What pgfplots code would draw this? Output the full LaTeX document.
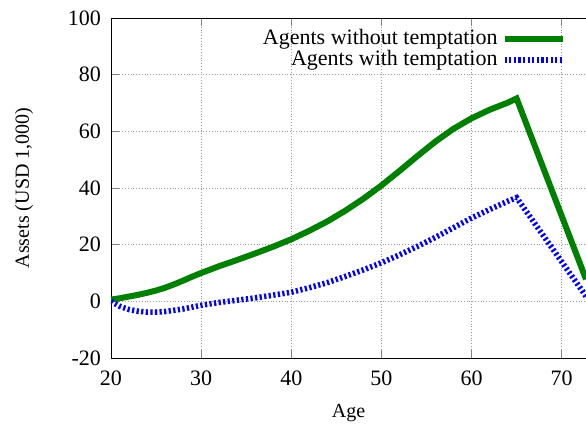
\documentclass[border=0pt]{standalone}
\usepackage{pgfplots}
\pgfplotsset{compat=1.18}
\usepackage{fontspec}
\setmainfont{Liberation Serif}
\definecolor{gpgreen}{RGB}{0,128,0}
\definecolor{gpblue}{RGB}{0,0,255}
\begin{document}
\begin{tikzpicture}
\begin{axis}[
  scale only axis,
  width=237.5pt, height=170pt,
  xmin=20, xmax=72.7, ymin=-20, ymax=100,
  xtick={20,30,40,50,60,70},
  ytick={-20,0,20,40,60,80,100},
  axis x line*=box, axis y line*=left,
  y axis line style={-},
  x axis line style={-},
  tick align=inside,
  major tick length=4pt,
  grid=major,
  major grid style={densely dotted, gray!80, line width=0.4pt},
  xlabel={Age}, ylabel={Assets (USD 1,000)},
  tick label style={font=\fontsize{11}{13}\selectfont},
  yticklabel style={xshift=-1.5pt},
  xticklabel style={yshift=-3pt},
  label style={font=\fontsize{11}{13}\selectfont},
  every axis y label/.style={at={(axis description cs:-0.1832,0.5)}, rotate=90, anchor=center},
  every axis x label/.style={at={(axis description cs:0.5,-0.162)}, anchor=center},
  /pgf/number format/assume math mode=true,
  legend style={at={(1,1)}, anchor=north east, xshift=-7pt, yshift=-1.5pt,
    draw=none, fill=none, font=\fontsize{11}{12}\selectfont,
    legend cell align=right, row sep=-2.5pt},
  legend plot pos=right,
  legend image code/.code={\draw[#1] (0pt,0pt) -- (29pt,0pt);},
  every axis plot/.append style={line join=miter},
  clip=true,
]
\addplot[gpgreen, line width=3pt] coordinates {
(20,0.6) (21,1.1) (22,1.7) (23,2.3) (24,3.0) (25,3.8) (26,4.8) (27,6.0) (28,7.3) (29,8.7) (30,10.0)
(32,12.4) (34,14.6) (36,16.9) (38,19.3) (40,21.9) (42,24.9) (44,28.2) (46,32.0)
(48,36.2) (50,40.9) (52,46.0) (54,51.3) (56,56.4) (58,60.9) (60,64.6) (62,67.6)
(64,70.1) (65,71.6) (72.7,7.8)
};
\addlegendentry{Agents without temptation}
\addplot[gpblue, line width=2.8pt, dash pattern=on 1.1pt off 1.2pt] coordinates {
(20,0) (21,-1.8) (22,-2.9) (23,-3.5) (24,-3.8) (25,-3.8) (26,-3.6) (28,-2.7) (30,-1.4) (32,-0.4)
(34,0.4) (36,1.2) (38,2.2) (40,3.2) (42,4.8) (44,6.6) (46,8.8) (48,11.1) (50,13.6) (52,16.4)
(54,19.4) (56,22.6) (58,26.0) (60,29.4) (62,32.4) (64,35.3) (65,36.6) (72.7,1.8)
};
\addlegendentry{Agents with temptation}
\end{axis}
\pgfresetboundingbox
\path[use as bounding box] ([xshift=-55.5pt,yshift=-34.5pt]current axis.south west) rectangle ([yshift=9pt]current axis.north east);
\end{tikzpicture}
\end{document}
